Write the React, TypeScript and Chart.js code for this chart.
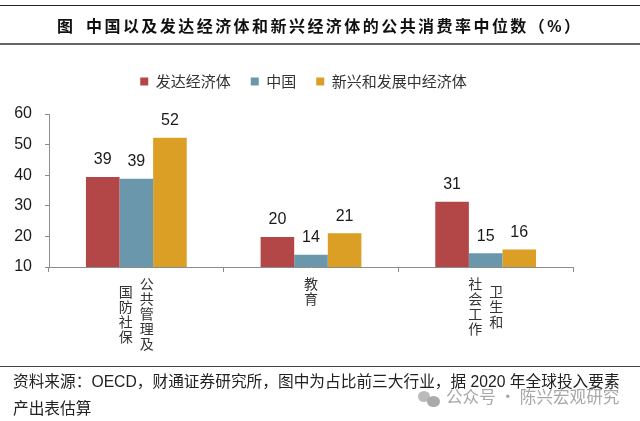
import React, { useEffect, useRef } from "react";
import { Chart, registerables } from "chart.js";

Chart.register(...registerables);

const titleMark = "图";
const titleText = "中国以及发达经济体和新兴经济体的公共消费率中位数（%）";
const sourceLines = [
  "资料来源：OECD，财通证券研究所，图中为占比前三大行业，据 2020 年全球投入要素",
  "产出表估算",
];
const watermark = "公众号 · 陈兴宏观研究";

const categories = ["公共管理及国防社保", "教育", "卫生和社会工作"];
const categoryColumns = [["公共管理及", "国防社保"], ["教育"], ["社会工作", "卫生和"]];
const columnOrderRightFirst = [true, true, false];

const seriesNames = ["发达经济体", "中国", "新兴和发展中经济体"];
const developed = [39.4, 19.8, 31.3];
const china = [38.8, 14.0, 14.5];
const emerging = [52.2, 21.0, 15.7];
const seriesColors = ["#b34747", "#6b97ad", "#dc9f26"];

const yTicks = [10, 20, 30, 40, 50, 60];
const CJK = '"Noto Sans CJK SC", sans-serif';
const LATIN = '"Liberation Sans", Arial, sans-serif';
const MIXED = '"Liberation Sans", "Noto Sans CJK SC", sans-serif';

const overlays = {
  id: "overlays",
  beforeLayout(chart: any) {
    const legend = chart.legend;
    if (legend && !legend.__wrapped) {
      const fit = legend.fit;
      legend.fit = function () {
        fit.call(this);
        this.height += 15;
      };
      legend.__wrapped = true;
    }
  },
  afterLayout(chart: any) {
    if (chart.legend) chart.legend.right += 34;
  },
  afterDatasetsDraw(chart: any) {
    const ctx = chart.ctx;
    ctx.save();
    // value labels
    ctx.fillStyle = "#1a1a1a";
    ctx.font = `16px ${LATIN}`;
    ctx.textAlign = "center";
    ctx.textBaseline = "bottom";
    chart.data.datasets.forEach((ds: any, i: number) => {
      chart.getDatasetMeta(i).data.forEach((bar: any, j: number) => {
        ctx.fillText(String(Math.round(ds.data[j])), bar.x, bar.y - 9);
      });
    });
    // stacked vertical category labels
    const xs = chart.scales.x;
    ctx.font = `14px ${CJK}`;
    ctx.fillStyle = "#333";
    ctx.textBaseline = "middle";
    const pitch = 15;
    const gap = 21;
    categoryColumns.forEach((cols, c) => {
      const cx = xs.getPixelForValue(c);
      const longest = Math.max(...cols.map((t) => t.length));
      const n = cols.length;
      cols.forEach((text, k) => {
        const pos = columnOrderRightFirst[c] ? (n - 1) / 2 - k : k - (n - 1) / 2;
        const x = cx + pos * gap;
        const start = 284 + ((longest - text.length) * pitch) / 2;
        Array.from(text).forEach((ch, m) => ctx.fillText(ch, x, start + m * pitch));
      });
    });
    ctx.restore();
  },
};

export default function App() {
  const ref = useRef<HTMLCanvasElement>(null);
  useEffect(() => {
    document.body.style.margin = "0";
    const chart = new Chart(ref.current!, {
      type: "bar",
      data: {
        labels: categories,
        datasets: [
          { label: seriesNames[0], data: developed, backgroundColor: seriesColors[0] },
          { label: seriesNames[1], data: china, backgroundColor: seriesColors[1] },
          { label: seriesNames[2], data: emerging, backgroundColor: seriesColors[2] },
        ],
      },
      options: {
        responsive: false,
        animation: false,
        layout: { padding: { top: 54, right: 67, left: 0, bottom: 0 } },
        datasets: { bar: { barPercentage: 1, categoryPercentage: 0.577 } },
        plugins: {
          title: { display: false },
          tooltip: { enabled: false },
          legend: {
            display: true,
            position: "top",
            align: "center",
            labels: {
              boxWidth: 8,
              boxHeight: 8,
              padding: 20,
              color: "#333",
              font: { family: CJK, size: 15 },
            },
          },
        },
        scales: {
          x: {
            grid: { drawOnChartArea: false, drawTicks: true, tickLength: 5, color: "#8c8c8c" },
            border: { color: "#8c8c8c", width: 1 },
            ticks: { display: false },
            afterFit(scale: any) {
              scale.height = 154;
            },
          },
          y: {
            min: 10,
            max: 60,
            grid: { drawOnChartArea: false, drawTicks: true, tickLength: 4, color: "#8c8c8c" },
            border: { color: "#8c8c8c", width: 1 },
            afterBuildTicks(scale: any) {
              scale.ticks = yTicks.map((value) => ({ value }));
            },
            ticks: {
              color: "#1a1a1a",
              padding: 13,
              font: { family: LATIN, size: 16 },
            },
            afterFit(scale: any) {
              scale.width = 49;
            },
          },
        },
      },
      plugins: [overlays],
    } as any);
    return () => chart.destroy();
  }, []);

  const rule = (top: number, h: number, color: string): React.CSSProperties => ({
    position: "absolute", left: 0, width: 640, top, height: h, background: color,
  });
  const titleFont: React.CSSProperties = {
    position: "absolute", top: 13, whiteSpace: "pre",
    font: `bold 16px/28px ${MIXED}`, letterSpacing: 2.45, color: "#111",
  };

  return (
    <div style={{ position: "relative", width: 640, height: 421, background: "#fff", overflow: "hidden" }}>
      <canvas ref={ref} width={640} height={421} style={{ position: "absolute", left: 0, top: 0 }} />
      <div style={rule(5, 1, "#222")} />
      <div style={rule(43, 2, "#666")} />
      <div style={rule(366, 1, "#444")} />
      <div style={{ ...titleFont, left: 57 }}>{titleMark}</div>
      <div style={{ ...titleFont, left: 86 }}>{titleText}</div>
      {sourceLines.map((line, i) => (
        <div key={i} style={{
          position: "absolute", left: 13, top: 370 + i * 27, whiteSpace: "pre",
          font: `15.7px/24px ${MIXED}`, color: "#222",
        }}>{line}</div>
      ))}
      <div style={{ position: "absolute", left: 418, top: 391, width: 12, height: 11, borderRadius: "50%", background: "#bbb" }} />
      <div style={{ position: "absolute", left: 427, top: 396, width: 13, height: 11, borderRadius: "50%", background: "#aaa" }} />
      <div style={{
        position: "absolute", left: 446, top: 384, whiteSpace: "pre",
        font: `16.6px/24px ${CJK}`, color: "rgba(120,120,120,0.65)",
      }}>{watermark}</div>
    </div>
  );
}
